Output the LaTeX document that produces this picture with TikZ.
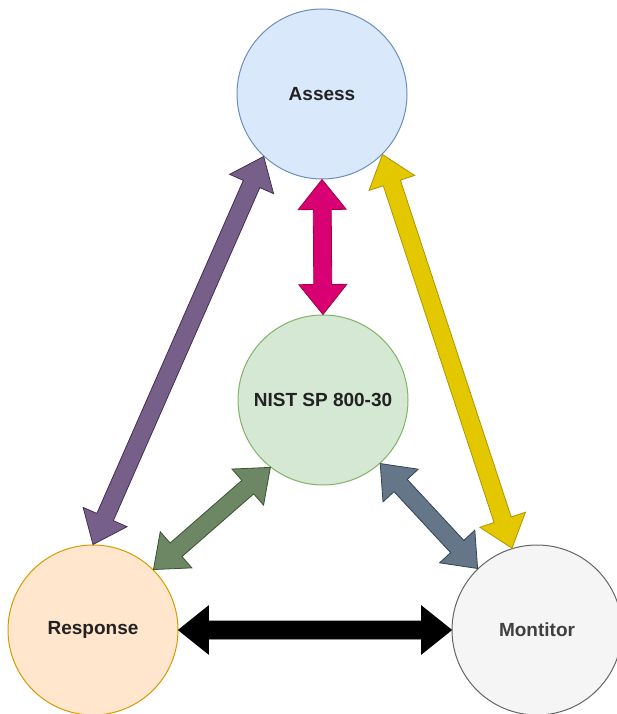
\documentclass[tikz,border=0pt]{standalone}
\usepackage{fontspec}
\setmainfont{Liberation Sans}
\usetikzlibrary{calc}

% palette
\definecolor{assessfill}{HTML}{DAE8FC}\definecolor{assessline}{HTML}{6C8EBF}
\definecolor{nistfill}{HTML}{D5E8D4}\definecolor{nistline}{HTML}{82B366}
\definecolor{respfill}{HTML}{FFE6CC}\definecolor{respline}{HTML}{D79B00}
\definecolor{monfill}{HTML}{F5F5F5}\definecolor{monline}{HTML}{666666}
\definecolor{pinkfill}{HTML}{D80073}\definecolor{pinkline}{HTML}{A50040}
\definecolor{purplefill}{HTML}{76608A}\definecolor{purpleline}{HTML}{432D57}
\definecolor{yellowfill}{HTML}{E3C800}\definecolor{yellowline}{HTML}{B09500}
\definecolor{slatefill}{HTML}{647687}\definecolor{slateline}{HTML}{314354}
\definecolor{greenfill}{HTML}{6D8764}\definecolor{greenline}{HTML}{3A5431}
\definecolor{labeltext}{HTML}{222222}

% head length, head half-width, shaft half-width of the block arrows
\def\hl{30pt}
\def\hw{24pt}
\def\sw{9pt}

% double-headed block arrow between two points
\newcommand\fatarrow[3]{%
  \path[#1] let \p1=(#2), \p2=(#3),
      \n1={atan2(\y2-\y1,\x2-\x1)}, \n2={\n1+90}, \n3={\n1+180} in
    (\p1)
    -- ($(\p1)+(\n1:\hl)+(\n2:\hw)$)
    -- ($(\p1)+(\n1:\hl)+(\n2:\sw)$)
    -- ($(\p2)+(\n3:\hl)+(\n2:\sw)$)
    -- ($(\p2)+(\n3:\hl)+(\n2:\hw)$)
    -- (\p2)
    -- ($(\p2)+(\n3:\hl)+(\n2:-\hw)$)
    -- ($(\p2)+(\n3:\hl)+(\n2:-\sw)$)
    -- ($(\p1)+(\n1:\hl)+(\n2:-\sw)$)
    -- ($(\p1)+(\n1:\hl)+(\n2:-\hw)$)
    -- cycle;
}

\tikzset{
  stage/.style={circle, minimum size=170pt, inner sep=0pt, line width=1pt,
    font=\fontsize{19pt}{22pt}\selectfont\bfseries, text=labeltext},
  link/.style={line width=0.8pt, line join=miter},
}

\begin{document}
\begin{tikzpicture}[x=1pt, y=-1pt]
  \useasboundingbox (0,0) rectangle (616,714);

  \node[stage, fill=assessfill, draw=assessline] (assess) at (322,94) {Assess};
  \node[stage, fill=nistfill, draw=nistline] (nist) at (323,400) {NIST SP 800-30};
  \node[stage, fill=respfill, draw=respline] (resp) at (93,630) {Response};
  \node[stage, fill=monfill, draw=monline, text=black!75] (mon) at (537,630) {Montitor};

  \fatarrow{link, fill=pinkfill, draw=pinkline}{assess.-90}{nist.90}
  \fatarrow{link, fill=purplefill, draw=purpleline}{assess.-133}{resp.90}
  \fatarrow{link, fill=yellowfill, draw=yellowline}{assess.-45}{mon.107}
  \fatarrow{link, fill=slatefill, draw=slateline}{nist.-48}{mon.134}
  \fatarrow{link, fill=greenfill, draw=greenline}{nist.-128}{resp.45}
  \fatarrow{link, fill=black, draw=black}{resp.0}{mon.180}
\end{tikzpicture}
\end{document}
